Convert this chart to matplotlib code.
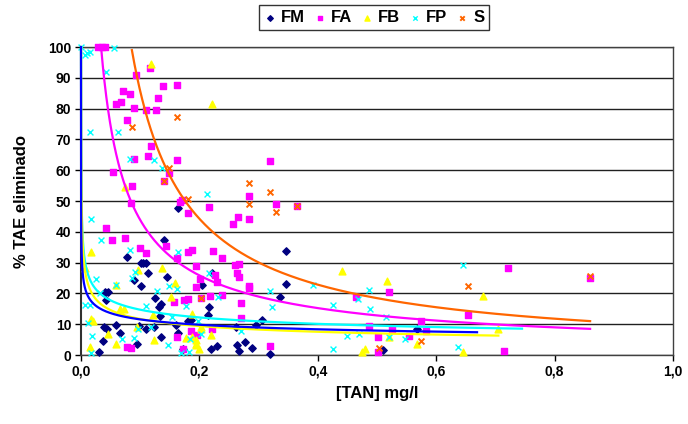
import numpy as np
import matplotlib.pyplot as plt

plt.rcParams['font.family'] = ['Liberation Sans', 'DejaVu Sans']
plt.rcParams['font.weight'] = 'bold'

# --- Measured points: [TAN] (mg/l) vs % TAE removed, one pair of lists per series ---
fm_x = [0.164, 0.140, 0.077, 0.102, 0.105, 0.109, 0.113, 0.089, 0.145, 0.102, 0.204,
        0.041, 0.046, 0.042, 0.136, 0.131, 0.125, 0.133, 0.039, 0.044, 0.060, 0.066,
        0.098, 0.109, 0.123, 0.135, 0.160, 0.164, 0.037, 0.031, 0.095, 0.173, 0.346,
        0.222, 0.347, 0.336, 0.217, 0.214, 0.185, 0.181, 0.305, 0.296, 0.262, 0.220,
        0.230, 0.264, 0.277, 0.267, 0.289, 0.320, 0.568, 0.510]
fm_y = [47.7, 37.3, 31.9, 30.0, 30.0, 30.0, 26.5, 24.5, 25.2, 22.4, 22.7,
        20.6, 20.6, 17.9, 16.6, 15.5, 18.4, 12.7, 9.2, 8.4, 9.7, 7.2,
        9.4, 8.3, 9.1, 5.9, 9.7, 7.1, 4.6, 1.1, 3.6, 1.9, 33.8,
        26.7, 23.0, 18.9, 15.5, 13.0, 11.4, 10.9, 11.5, 9.7, 9.0, 1.8,
        3.0, 3.2, 4.3, 1.4, 2.2, 0.2, 8.4, 1.6]

fa_x = [0.029, 0.035, 0.041, 0.117, 0.093, 0.139, 0.163, 0.071, 0.083, 0.060, 0.067,
        0.130, 0.089, 0.109, 0.127, 0.078, 0.119, 0.114, 0.089, 0.162, 0.054, 0.087,
        0.140, 0.170, 0.149, 0.085, 0.168, 0.181, 0.042, 0.052, 0.074, 0.100, 0.109,
        0.144, 0.181, 0.157, 0.174, 0.162, 0.078, 0.085, 0.173, 0.320, 0.284, 0.329,
        0.365, 0.216, 0.265, 0.256, 0.284, 0.187, 0.223, 0.238, 0.195, 0.261, 0.267,
        0.264, 0.267, 0.226, 0.230, 0.201, 0.194, 0.283, 0.283, 0.218, 0.239, 0.181,
        0.203, 0.271, 0.270, 0.222, 0.186, 0.319, 0.162, 0.196, 0.464, 0.487, 0.501,
        0.501, 0.520, 0.525, 0.554, 0.575, 0.721, 0.653, 0.582, 0.714, 0.860]
fa_y = [100.0, 100.0, 100.0, 93.1, 90.9, 87.3, 87.7, 85.7, 84.7, 81.4, 82.0,
        83.3, 80.2, 79.4, 79.4, 76.3, 67.9, 64.7, 63.6, 63.3, 59.5, 55.0,
        56.6, 50.3, 59.2, 49.2, 49.8, 46.2, 41.3, 37.3, 37.9, 34.9, 33.2,
        35.5, 33.4, 17.1, 17.9, 5.7, 2.7, 2.4, 1.9, 63.0, 51.6, 49.0,
        48.5, 47.9, 44.7, 42.5, 44.3, 34.1, 33.9, 31.4, 28.9, 29.2, 29.5,
        26.5, 25.4, 26.0, 23.6, 24.7, 22.2, 22.5, 21.9, 19.2, 19.5, 18.1,
        18.6, 17.0, 11.9, 8.4, 7.8, 2.9, 31.4, 6.5, 18.7, 9.4, 5.8,
        1.1, 20.4, 8.5, 6.2, 11.1, 28.1, 12.9, 7.7, 1.3, 24.9]

fb_x = [0.118, 0.074, 0.017, 0.221, 0.137, 0.097, 0.158, 0.007, 0.060, 0.152, 0.073,
        0.066, 0.122, 0.017, 0.020, 0.094, 0.046, 0.123, 0.060, 0.016, 0.187, 0.194,
        0.187, 0.202, 0.202, 0.220, 0.194, 0.194, 0.200, 0.178, 0.441, 0.474, 0.480,
        0.517, 0.568, 0.520, 0.679, 0.705, 0.645]
fb_y = [94.4, 54.7, 33.3, 81.4, 28.1, 27.6, 23.3, 28.1, 22.7, 18.9, 15.1,
        14.8, 13.0, 11.7, 11.0, 9.0, 6.8, 4.9, 3.5, 2.5, 5.7, 3.2,
        13.2, 9.2, 8.3, 6.5, 4.9, 3.6, 1.9, 5.4, 27.4, 1.1, 1.8,
        24.0, 3.5, 5.7, 19.3, 8.4, 1.1]

fp_x = [0.000, 0.006, 0.011, 0.015, 0.055, 0.042, 0.016, 0.063, 0.083, 0.124, 0.137,
        0.017, 0.034, 0.083, 0.164, 0.092, 0.086, 0.025, 0.059, 0.149, 0.163, 0.128,
        0.032, 0.006, 0.015, 0.110, 0.177, 0.012, 0.153, 0.119, 0.019, 0.070, 0.090,
        0.096, 0.147, 0.017, 0.169, 0.182, 0.203, 0.216, 0.232, 0.320, 0.323, 0.198,
        0.271, 0.184, 0.213, 0.392, 0.425, 0.487, 0.489, 0.468, 0.449, 0.470, 0.425,
        0.515, 0.547, 0.521, 0.645, 0.637]
fp_y = [100.0, 97.4, 97.9, 98.5, 99.6, 91.8, 72.5, 72.5, 63.6, 63.3, 60.6,
        44.0, 37.3, 34.1, 33.3, 26.8, 24.9, 24.7, 22.7, 22.5, 21.3, 20.9,
        20.2, 16.2, 16.2, 15.9, 15.9, 10.5, 12.4, 9.2, 6.3, 5.2, 5.6,
        8.6, 3.1, 0.6, 0.8, 1.1, 6.8, 26.7, 18.9, 20.9, 15.5, 11.0,
        7.8, 5.1, 52.2, 22.8, 16.3, 21.1, 15.0, 18.1, 6.2, 6.8, 2.0,
        12.4, 5.1, 5.7, 29.2, 2.5]

s_x = [0.162, 0.086, 0.149, 0.181, 0.141, 0.284, 0.320, 0.284, 0.329, 0.365,
       0.203, 0.653, 0.575, 0.504, 0.860]
s_y = [77.2, 74.1, 60.6, 50.5, 56.5, 56.0, 52.8, 49.1, 46.3, 48.4,
       18.4, 22.4, 4.6, 2.2, 25.7]

# Power trendlines y = a * x**b, each over its own x span
fit_a = {'FM': 6.73, 'FA': 7.57, 'FB': 5.64, 'FP': 7.9, 'S': 9.53}
fit_b = {'FM': -0.235, 'FA': -0.763, 'FB': -0.317, 'FP': -0.27, 'S': -0.954}
fit_xmin = {'FM': 1e-6, 'FA': 0.029, 'FB': 1e-6, 'FP': 1e-6, 'S': 0.086}
fit_xmax = {'FM': 0.669, 'FA': 0.860, 'FB': 0.705, 'FP': 0.745, 'S': 0.860}

fig = plt.figure(figsize=(6.88, 4.24), dpi=100)
ax = fig.add_axes([0.1177, 0.1627, 0.8605, 0.7264])

series = [
    ('FM', fm_x, fm_y, dict(marker='D', color='#000080', s=14), '#0000FF'),
    ('FA', fa_x, fa_y, dict(marker='s', color='#FF00FF', s=22), '#FF00FF'),
    ('FB', fb_x, fb_y, dict(marker='^', color='#FFFF00', s=24), '#FFFF00'),
    ('FP', fp_x, fp_y, dict(marker='x', color='#00FFFF', s=18, linewidths=1.0), '#00FFFF'),
    ('S', s_x, s_y, dict(marker='x', color='#FF6600', s=18, linewidths=1.4), '#FF6600'),
]

for name, xs, ys, style, line_color in series:
    ax.scatter(xs, ys, label=name, zorder=3, clip_on=False, **style)

# trendlines drawn in reverse so the FM curve ends up on top near x = 0
for i, (name, xs, ys, style, line_color) in enumerate(series):
    a, b = fit_a[name], fit_b[name]
    # start where the curve enters the 0-100 range
    x0 = max(fit_xmin[name], (100.0 / a) ** (1.0 / b))
    xx = np.geomspace(x0, fit_xmax[name], 800)
    ax.plot(xx, a * xx ** b, color=line_color, lw=1.6, zorder=5 - i * 0.1,
            clip_on=False)

ax.set_xlim(0, 1.0)
ax.set_ylim(0, 100)
ax.set_xticks(np.arange(0, 1.01, 0.2))
ax.set_xticklabels([f'{v:.1f}'.replace('.', ',') for v in np.arange(0, 1.01, 0.2)])
ax.set_yticks(range(0, 101, 10))
ax.yaxis.grid(True, color='#202020', lw=1.0)
ax.set_axisbelow(True)
ax.tick_params(axis='both', direction='out', length=4, width=1, labelsize=10, pad=3)
for sp in ax.spines.values():
    sp.set_color('#404040')
    sp.set_linewidth(1.0)
ax.spines['left'].set_color('#303030')
ax.spines['left'].set_linewidth(1.5)

ax.set_xlabel('[TAN] mg/l', fontsize=12, fontweight='bold', labelpad=5)
ax.set_ylabel('% TAE eliminado', fontsize=12, fontweight='bold', labelpad=14)

leg = fig.legend(loc='upper center', bbox_to_anchor=(0.5436, 0.988), ncol=5,
                 frameon=True, fancybox=False, edgecolor='black', fontsize=12,
                 handletextpad=0.25, columnspacing=0.5, borderpad=0.3,
                 borderaxespad=0.0, handlelength=0.8, markerscale=0.75,
                 scatterpoints=1)
leg.get_frame().set_linewidth(1.0)
for t in leg.get_texts():
    t.set_fontweight('bold')

fig.savefig('out.png', dpi=100)
